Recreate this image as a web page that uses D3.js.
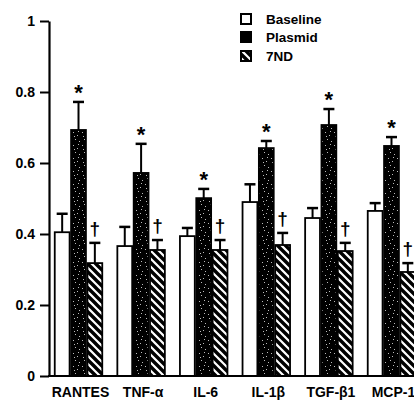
<!DOCTYPE html>
<html>
<head>
<meta charset="utf-8">
<script src="https://cdn.jsdelivr.net/npm/d3@7"></script>
<style>
  html, body { margin: 0; padding: 0; background: #fff; }
  svg { display: block; font-family: "Liberation Sans", Arial, sans-serif; }
</style>
</head>
<body>
<div id="chart"></div>
<script>
// ---- data ----
const categories = ["RANTES", "TNF-\u03b1", "IL-6", "IL-1\u03b2", "TGF-\u03b21", "MCP-1"];
const seriesNames = ["Baseline", "Plasmid", "7ND"];
const baseline    = [0.405, 0.366, 0.394, 0.490, 0.445, 0.465];
const baselineErr = [0.052, 0.054, 0.023, 0.050, 0.028, 0.022];
const plasmid     = [0.693, 0.572, 0.501, 0.642, 0.707, 0.648];
const plasmidErr  = [0.079, 0.082, 0.026, 0.020, 0.045, 0.025];
const nd7         = [0.318, 0.355, 0.355, 0.369, 0.352, 0.293];
const nd7Err      = [0.057, 0.028, 0.028, 0.034, 0.023, 0.025];
const seriesMarks = ["", "*", "\u2020"];
const yTickValues = [0, 0.2, 0.4, 0.6, 0.8, 1];
const yTickLabels = ["0", "0.2", "0.4", "0.6", "0.8", "1"];

const W = 414, H = 401;
const svg = d3.select("#chart").append("svg").attr("width", W).attr("height", H);

const defs = svg.append("defs");
// hatch pattern
const hatch = defs.append("pattern").attr("id", "hatch")
  .attr("patternUnits", "userSpaceOnUse").attr("width", 8).attr("height", 8);
hatch.append("rect").attr("width", 8).attr("height", 8).attr("fill", "#fff");
hatch.append("path").attr("d", "M-2,-2 L10,10 M-2,6 L2,10 M6,-2 L10,2")
  .attr("stroke", "#000").attr("stroke-width", 3.4);
// speckled black pattern
const speck = defs.append("pattern").attr("id", "speck")
  .attr("patternUnits", "userSpaceOnUse").attr("width", 9).attr("height", 13);
speck.append("rect").attr("width", 9).attr("height", 13).attr("fill", "#000");
[[1,2],[5,5],[3,9],[7,11],[6,1],[2,6]].forEach(([sx, sy]) => {
  speck.append("rect").attr("x", sx).attr("y", sy).attr("width", 1).attr("height", 1)
    .attr("fill", "#bbb");
});

const y = d3.scaleLinear().domain([0, 1]).range([376, 21]);
const x0 = d3.scaleBand().domain(categories).range([54, 416]).paddingInner(0.217).paddingOuter(0);
const x1 = d3.scaleBand().domain(seriesNames).range([0, x0.bandwidth()]).padding(0);

const series = [
  { name: "Baseline", vals: baseline, errs: baselineErr, fill: "#fff" },
  { name: "Plasmid", vals: plasmid, errs: plasmidErr, fill: "url(#speck)" },
  { name: "7ND", vals: nd7, errs: nd7Err, fill: "url(#hatch)" }
];

const rows = [];
series.forEach((s, si) => {
  categories.forEach((c, ci) => {
    rows.push({ cat: c, ser: s.name, si, v: s.vals[ci], e: s.errs[ci], fill: s.fill, mark: seriesMarks[si] });
  });
});

const g = svg.append("g");

// error bars (upward only)
const eb = g.selectAll("g.err").data(rows).join("g").attr("class", "err");
eb.append("line")
  .attr("x1", d => x0(d.cat) + x1(d.ser) + x1.bandwidth() / 2)
  .attr("x2", d => x0(d.cat) + x1(d.ser) + x1.bandwidth() / 2)
  .attr("y1", d => y(d.v)).attr("y2", d => y(d.v + d.e))
  .attr("stroke", "#000").attr("stroke-width", 2);
eb.append("line")
  .attr("x1", d => x0(d.cat) + x1(d.ser) + x1.bandwidth() / 2 - 5.5)
  .attr("x2", d => x0(d.cat) + x1(d.ser) + x1.bandwidth() / 2 + 5.5)
  .attr("y1", d => y(d.v + d.e)).attr("y2", d => y(d.v + d.e))
  .attr("stroke", "#000").attr("stroke-width", 2.5);

// bars
g.selectAll("rect.bar").data(rows).join("rect").attr("class", "bar")
  .attr("x", d => x0(d.cat) + x1(d.ser) + 0.75)
  .attr("width", x1.bandwidth() - 1.5)
  .attr("y", d => y(d.v))
  .attr("height", d => y(0) - y(d.v))
  .attr("fill", d => d.fill)
  .attr("stroke", "#000").attr("stroke-width", 1.8);

// significance marks
g.selectAll("text.mark").data(rows.filter(d => d.mark)).join("text").attr("class", "mark")
  .attr("x", d => x0(d.cat) + x1(d.ser) + x1.bandwidth() / 2)
  .attr("y", d => y(d.v + d.e) - (d.mark === "*" ? 2 : 8))
  .attr("text-anchor", "middle")
  .attr("font-size", d => d.mark === "*" ? 22 : 19)
  .attr("font-weight", "bold")
  .text(d => d.mark);

// y axis
const yAxis = d3.axisLeft(y).tickValues(yTickValues)
  .tickFormat((d, i) => yTickLabels[i]).tickSize(9).tickSizeOuter(0).tickPadding(5);
const ya = svg.append("g").attr("transform", "translate(49,0)").call(yAxis);
ya.select(".domain").attr("stroke-width", 2.2);
ya.selectAll(".tick line").attr("stroke-width", 2);
ya.selectAll(".tick text").attr("font-size", 14).attr("font-weight", "bold")
  .attr("font-family", "Liberation Sans, Arial, sans-serif").attr("fill", "#000");

// x axis baseline
svg.append("line").attr("x1", 48).attr("x2", W).attr("y1", y(0)).attr("y2", y(0))
  .attr("stroke", "#000").attr("stroke-width", 2.2);

// x labels
svg.selectAll("text.xl").data(categories).join("text").attr("class", "xl")
  .attr("x", d => x0(d) + x0.bandwidth() / 2 + 2)
  .attr("y", 397)
  .attr("text-anchor", "middle")
  .attr("font-size", 14)
  .attr("font-weight", "bold")
  .attr("fill", "#000")
  .text(d => d);

// legend
const lg = svg.append("g").attr("transform", "translate(240,13)");
const legFills = ["#fff", "#000", "url(#hatch)"];
const legY = [0, 18, 37];
seriesNames.forEach((n, i) => {
  lg.append("rect").attr("x", 1).attr("y", legY[i] + 1).attr("width", 10).attr("height", 10)
    .attr("fill", legFills[i]).attr("stroke", "#000").attr("stroke-width", 2);
  lg.append("text").attr("x", 26).attr("y", legY[i] + 10.5)
    .attr("font-size", 13.5).attr("font-weight", "bold").text(n);
});
</script>
</body>
</html>
